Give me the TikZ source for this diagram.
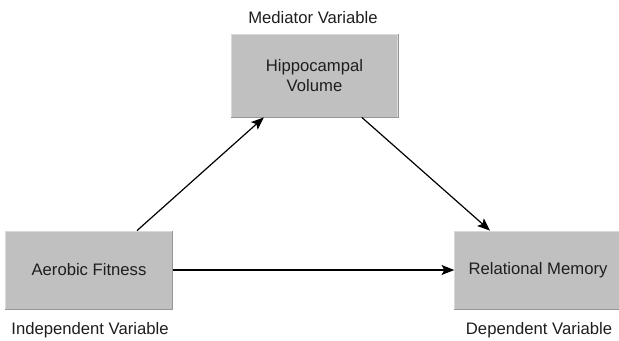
\documentclass[tikz,border=0pt]{standalone}
\usepackage{fontspec}
\setmainfont{Liberation Sans}
\usetikzlibrary{arrows.meta}
\definecolor{boxgray}{RGB}{192,192,192}
\definecolor{edgegray}{RGB}{150,150,150}
\definecolor{inkgray}{RGB}{30,30,30}
\tikzset{
  var/.style={fill=boxgray, draw=boxgray!60!white, line width=0.6pt, minimum width=125pt, minimum height=58.5pt,
    align=center, text=inkgray, font=\fontsize{12.5}{15}\selectfont, inner sep=0pt},
  tag/.style={text=inkgray, font=\fontsize{12.5}{15}\selectfont, anchor=base, inner sep=0pt},
  link/.style={-{Stealth[length=9.5pt,width=7.5pt,inset=2pt]}, line width=0.9pt, draw=black}
}
\begin{document}
\begin{tikzpicture}[x=0.75pt,y=-0.75pt]
\useasboundingbox (0,0) rectangle (619,340);
\node[var, minimum height=62.25pt] (hv) at (314.5,75.5) {Hippocampal\\Volume};
\node[var] (af) at (89,270) {Aerobic Fitness};
\node[var] (rm) at (538,270) {Relational Memory};
% darker lower and right edges
\foreach \n in {hv,af,rm}
  \draw[edgegray, line width=1pt] (\n.south west) -- (\n.south east) -- (\n.north east);
\node[tag] (mv) at (313,23) {Mediator Variable};
\node[tag] (iv) at (90,334) {Independent Variable};
\node[tag] (dv) at (539,334) {Dependent Variable};
\draw[link] ([xshift=36pt]af.north) to ([xshift=-38pt]hv.south);
\draw[link] ([xshift=35.5pt]hv.south) to ([xshift=-36pt]rm.north);
\draw[link] (af.east) to (rm.west);
\end{tikzpicture}
\end{document}
